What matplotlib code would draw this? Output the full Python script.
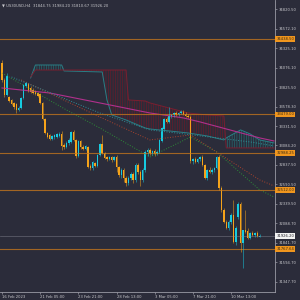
import matplotlib.pyplot as plt
import matplotlib.transforms as mtransforms
import numpy as np

# H4 candles, US30
opens = [34136, 33919, 33728, 33702, 33664, 33626, 33613, 33537, 33562, 33690,
         33843, 33868, 33817, 33792, 33779, 33753, 33741, 33626, 33422, 33243,
         33218, 33167, 33192, 33192, 33205, 33231, 33090, 33065, 33116, 33129,
         33256, 33154, 32950, 33141, 33065, 33039, 33065, 32823, 32797, 32861,
         32823, 32963, 33103, 32988, 32937, 32912, 32937, 32899, 32937, 32810,
         32708, 32772, 32670, 32606, 32670, 32721, 32644, 32835, 32746, 32644,
         32772, 33001, 33027, 32988, 33014, 32976, 33001, 33141, 33294, 33422,
         33384, 33460, 33473, 33498, 33473, 33498, 33524, 33486, 33460, 33447,
         32886, 32912, 32874, 32912, 32937, 32835, 32670, 32772, 32746, 32772,
         32797, 32937, 32542, 32262, 32108, 32032, 32108, 32198, 31853, 32172,
         32338, 31841, 32006, 31994, 31904, 31968, 31943, 31968, 31915]
highs = [34174, 33945, 34008, 33715, 33677, 33639, 33626, 33588, 33702, 33868,
         33894, 33881, 33843, 33817, 33792, 33766, 33753, 33639, 33435, 33256,
         33231, 33218, 33231, 33243, 33256, 33269, 33116, 33141, 33180, 33269,
         33282, 33167, 33154, 33154, 33090, 33090, 33078, 32848, 32886, 32874,
         32976, 33116, 33218, 33001, 32950, 32950, 32950, 32950, 32963, 32823,
         32797, 32797, 32695, 32695, 32746, 32746, 32861, 32861, 32772, 32797,
         33027, 33052, 33052, 33027, 33039, 33027, 33167, 33320, 33435, 33447,
         33575, 33486, 33511, 33524, 33511, 33537, 33537, 33511, 33486, 33473,
         32925, 32937, 32925, 32950, 32963, 32848, 32784, 32810, 32797, 32810,
         32950, 32963, 32568, 32287, 32134, 32134, 32223, 32389, 32058, 32364,
         32364, 32006, 32262, 32032, 31981, 31994, 31981, 31994, 31955]
lows = [33894, 33702, 33715, 33639, 33600, 33549, 33498, 33524, 33549, 33677,
        33830, 33766, 33753, 33741, 33728, 33702, 33613, 33409, 33231, 33180,
        33154, 33154, 33167, 33180, 33192, 33027, 33039, 33052, 33090, 33116,
        33141, 32925, 32937, 33039, 33027, 33027, 32797, 32772, 32772, 32810,
        32810, 32950, 32976, 32912, 32886, 32899, 32874, 32886, 32746, 32682,
        32670, 32619, 32568, 32580, 32644, 32606, 32619, 32721, 32568, 32619,
        32746, 32950, 32963, 32963, 32950, 32963, 32988, 33129, 33282, 33371,
        33371, 33435, 33447, 33460, 33460, 33486, 33473, 33447, 33435, 32861,
        32848, 32861, 32861, 32886, 32823, 32657, 32644, 32733, 32721, 32746,
        32784, 32517, 32236, 32096, 32019, 32006, 32083, 31841, 31815, 32147,
        31726, 31522, 31968, 31892, 31892, 31930, 31917, 31917, 31917]
closes = [33919, 33728, 33970, 33651, 33613, 33575, 33537, 33562, 33690, 33855,
          33881, 33792, 33766, 33753, 33741, 33715, 33626, 33422, 33243, 33192,
          33167, 33205, 33218, 33231, 33231, 33078, 33065, 33116, 33154, 33256,
          33154, 32950, 33141, 33065, 33039, 33078, 32810, 32797, 32874, 32823,
          32963, 33103, 32988, 32925, 32912, 32937, 32899, 32937, 32810, 32708,
          32772, 32670, 32606, 32670, 32721, 32644, 32835, 32746, 32644, 32772,
          33001, 33027, 32988, 33014, 32976, 33001, 33154, 33307, 33422, 33384,
          33460, 33473, 33498, 33473, 33498, 33524, 33486, 33460, 33447, 32886,
          32912, 32874, 32912, 32937, 32835, 32670, 32772, 32746, 32772, 32797,
          32937, 32542, 32262, 32108, 32032, 32108, 32198, 31853, 32032, 32338,
          31841, 32006, 31981, 31904, 31968, 31943, 31968, 31930, 31926.2]

# ichimoku cloud (senkou A / B)
cloud_bars = [12, 14, 25, 26, 42, 44, 46, 52, 53, 60, 62, 70, 78, 86, 93, 94, 100, 104, 108, 114]
span_a = [33945, 34110, 34110, 34034, 34021, 33664, 33473, 33409, 33396, 33307,
          33294, 33269, 33243, 33205, 33154, 33180, 33282, 33231, 33154, 33116]
span_b = [33957, 34046, 34046, 34046, 34046, 34046, 34046, 34046, 33664, 33651,
          33626, 33562, 33498, 33473, 33460, 33052, 33052, 33052, 33052, 33052]

# other indicator lines
ma_bars = [0, 20, 41, 62, 76, 83, 108, 114]
ma_vals = [33817, 33753, 33626, 33498, 33435, 33384, 33180, 33141]
green_bars = [0, 27, 41, 62, 79, 90, 108, 114]
green_vals = [34008, 33537, 33307, 32937, 33192, 33001, 32517, 32427]
red_bars = [8, 41, 62, 79, 108, 114]
red_vals = [33919, 33447, 33154, 33218, 32644, 32568]
teal_bars = [4, 41, 62, 73, 104, 114]
teal_vals = [33957, 33498, 33282, 33243, 33129, 33078]

levels = [34438.50, 33479.00, 32988.25, 32512.00, 31767.64]
last_price = 31926.20

ytick_vals = [34820.50, 34572.10, 34325.10, 34076.10, 33825.50, 33578.30, 33331.50,
              33084.20, 32837.50, 32590.50, 32339.50, 32088.70, 31841.70, 31594.70, 31347.70]
xtick_bars = [0, 16, 32, 48, 64, 80, 96]
xtick_labels = ['16 Feb 2023', '21 Feb 05:00', '23 Feb 21:00', '28 Feb 13:00',
                '3 Mar 05:00', '7 Mar 21:00', '10 Mar 13:00']
header = '\u25bc US30USD,H4  31844.75 31984.20 31810.67 31926.20'

bg = '#2b2c3a'
up_col = '#16cbe0'
dn_col = '#f5a31a'
txt_col = '#c8c8cc'
fs = 2.7

plt.rcParams['hatch.linewidth'] = 0.5
fig = plt.figure(figsize=(3, 3), dpi=100, facecolor=bg)
ax = fig.add_axes([0, 0.027, 0.918, 0.973], facecolor=bg)

# cloud
cb = np.array(cloud_bars)
sa = np.array(span_a)
sbb = np.array(span_b)
ax.fill_between(cb, sa, sbb, where=sbb >= sa, interpolate=True, facecolor='none',
                edgecolor='#6a1c2a', hatch='|||||||', linewidth=0)
ax.fill_between(cb, sa, sbb, where=sa >= sbb, interpolate=True, facecolor='none',
                edgecolor='#256a70', hatch='|||||||', linewidth=0)
ax.plot(cb, sa, color='#2a7f86', lw=0.7)
ax.plot(cb, sbb, color='#7a1f30', lw=0.7)

ax.plot(ma_bars, ma_vals, color='#b0308c', lw=0.8)
ax.plot(green_bars, green_vals, color='#2d8c38', lw=0.7, ls=':')
ax.plot(red_bars, red_vals, color='#a8432e', lw=0.7, ls=':')
ax.plot(teal_bars, teal_vals, color='#2f8d96', lw=0.7, ls=':')

for lv in levels:
    ax.axhline(lv, color='#b8701f', lw=0.8, alpha=0.85)
ax.axhline(last_price, color='#8a8a95', lw=0.5, alpha=0.6)

# candles
idx = np.arange(len(closes))
o = np.array(opens, dtype=float)
c = np.array(closes, dtype=float)
cols = np.where(c >= o, up_col, dn_col)
ax.vlines(idx, lows, highs, colors=cols, lw=0.5, alpha=0.7)
ax.bar(idx, np.maximum(np.abs(c - o), 6), bottom=np.minimum(o, c), width=0.62,
       color=cols, linewidth=0)

ax.set_xlim(-0.84, 114.6)
ax.set_ylim(31216, 34939)

ax.yaxis.tick_right()
ax.set_yticks(ytick_vals)
ax.set_yticklabels(['%.2f' % v for v in ytick_vals])
ax.set_xticks(xtick_bars)
ax.set_xticklabels(xtick_labels)
for lbl in ax.get_xticklabels():
    lbl.set_ha('left')
ax.tick_params(axis='both', colors='#9a9aa5', labelcolor=txt_col, labelsize=fs,
               length=1.5, width=0.5, pad=1)

for s in ['top', 'left']:
    ax.spines[s].set_visible(False)
for s in ['right', 'bottom']:
    ax.spines[s].set_color('#9a9aa5')
    ax.spines[s].set_linewidth(0.6)

trans = mtransforms.blended_transform_factory(ax.transAxes, ax.transData)
for lv in levels:
    ax.text(1.003, lv, '%.2f' % lv, transform=trans, fontsize=fs, color='#3a2a10',
            va='center', ha='left', clip_on=False,
            bbox=dict(boxstyle='square,pad=0.25', fc='#f0961e', ec='none'))
ax.text(1.003, last_price, '%.2f' % last_price, transform=trans, fontsize=fs,
        color='#202028', va='center', ha='left', clip_on=False,
        bbox=dict(boxstyle='square,pad=0.25', fc='#f2f2f2', ec='none'))

fig.text(0.008, 0.982, header, fontsize=fs, color=txt_col, va='center', ha='left')

fig.savefig('out.png', dpi=100, facecolor=bg)
